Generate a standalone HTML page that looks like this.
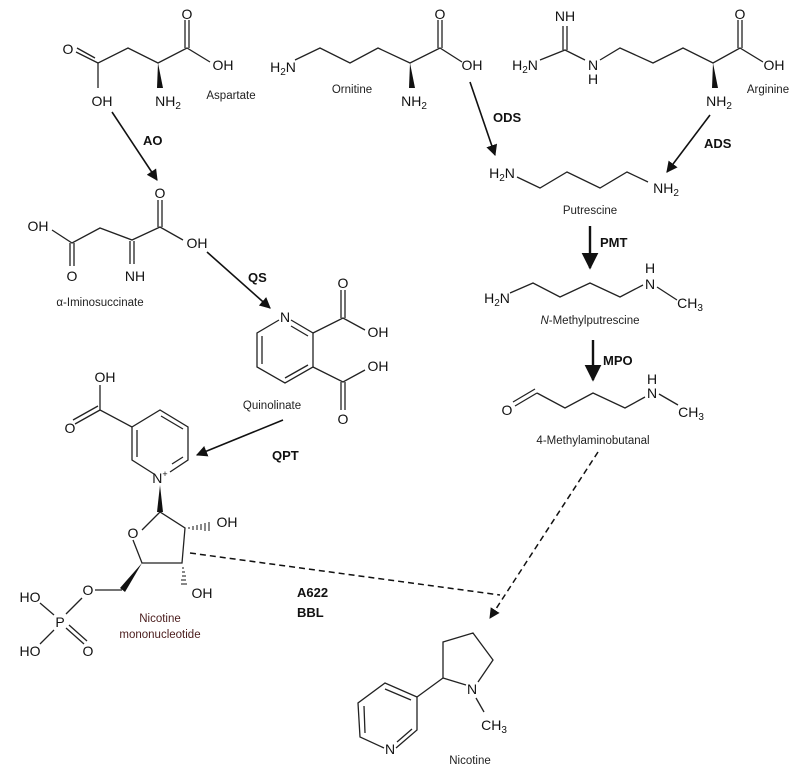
<!DOCTYPE html>
<html><head><style>body{margin:0;background:#fff}svg{display:block}</style></head><body>
<svg width="810" height="768" viewBox="0 0 810 768" xmlns="http://www.w3.org/2000/svg" font-family="Liberation Sans, sans-serif">
<defs>
<marker id="ah" viewBox="0 0 10 10" refX="9" refY="5" markerWidth="7" markerHeight="7" orient="auto"><path d="M0,0L10,5L0,10z" fill="#111"/></marker>
</defs>
<g stroke="#222" stroke-width="1.3" fill="none">
<polyline points="98,88 98,63 128,48 158,63 187,48 210,62"/>
<line x1="98" y1="63" x2="76" y2="52"/><line x1="95" y1="58" x2="77" y2="48"/>
<line x1="185" y1="48" x2="185" y2="20"/><line x1="189" y1="48" x2="189" y2="20"/>
<polyline points="52,230 72,243 100,228 132,240 160,227 183,240"/>
<line x1="70" y1="243" x2="70" y2="266"/><line x1="74" y1="243" x2="74" y2="266"/>
<line x1="130" y1="241" x2="130" y2="264"/><line x1="134" y1="241" x2="134" y2="264"/>
<line x1="158" y1="227" x2="158" y2="200"/><line x1="162" y1="227" x2="162" y2="200"/>
<polyline points="291,320 313,333 313,367 285,383 257,367 257,333 279,320"/>
<line x1="291" y1="326" x2="308" y2="336"/>
<line x1="308" y1="365" x2="285" y2="378"/>
<line x1="262" y1="364" x2="262" y2="336"/>
<polyline points="313,333 343,318 365,330"/>
<line x1="341" y1="318" x2="341" y2="290"/><line x1="345" y1="318" x2="345" y2="290"/>
<polyline points="313,367 343,382 365,370"/>
<line x1="341" y1="382" x2="341" y2="410"/><line x1="345" y1="382" x2="345" y2="410"/>
<polyline points="154,474 132,460 132,427 160,410 188,427 188,460 170,472"/>
<line x1="137" y1="457" x2="137" y2="430"/>
<line x1="161" y1="416" x2="183" y2="429"/>
<line x1="183" y1="457" x2="172" y2="464"/>
<polyline points="100,385 100,410 132,427"/>
<line x1="100" y1="410" x2="75" y2="424"/><line x1="98" y1="406" x2="73" y2="420"/>
<polyline points="142,530 160,512 185,528 182,563 142,563 133,540"/>
<line x1="122" y1="590" x2="95" y2="590"/>
<line x1="82" y1="598" x2="66" y2="614"/>
<line x1="40" y1="603" x2="54" y2="615"/>
<line x1="40" y1="644" x2="54" y2="630"/>
<line x1="66" y1="628" x2="84" y2="644"/><line x1="69" y1="625" x2="87" y2="641"/>
<polyline points="295,60 320,48 350,63 378,48 410,63 440,48 462,62"/>
<line x1="438" y1="48" x2="438" y2="20"/><line x1="442" y1="48" x2="442" y2="20"/>
<polyline points="540,60 565,50 585,60"/>
<line x1="563" y1="50" x2="563" y2="26"/><line x1="567" y1="50" x2="567" y2="26"/>
<polyline points="600,60 620,48 653,63 683,48 713,63 740,48 763,62"/>
<line x1="738" y1="48" x2="738" y2="20"/><line x1="742" y1="48" x2="742" y2="20"/>
<polyline points="517,177 540,188 567,172 600,188 627,172 648,182"/>
<polyline points="510,293 533,283 560,297 590,283 620,297 643,285"/>
<line x1="657" y1="287" x2="677" y2="300"/>
<line x1="515" y1="406" x2="537" y2="393"/><line x1="513" y1="402" x2="535" y2="389"/>
<polyline points="537,393 565,408 593,393 625,408 645,397"/>
<line x1="659" y1="394" x2="678" y2="405"/>
<polyline points="443,678 443,642 473,633 493,660 478,682"/>
<line x1="443" y1="678" x2="466" y2="685"/>
<line x1="476" y1="698" x2="484" y2="712"/>
<line x1="443" y1="678" x2="417" y2="697"/>
<polyline points="417,697 385,683 358,703 360,737 384,748"/>
<polyline points="396,748 417,730 417,697"/>
<line x1="385" y1="689" x2="411" y2="700"/>
<line x1="364" y1="706" x2="365" y2="733"/>
<line x1="397" y1="742" x2="412" y2="729"/>
</g>
<g fill="#111">
<polygon points="158,63 157,88 163,88"/>
<polygon points="410,63 409,88 415,88"/>
<polygon points="713,63 712,88 718,88"/>
<polygon points="160,485 157,512 163,512"/>
<polygon points="142,563 120,588 125,592"/>
</g>
<g stroke="#111" stroke-width="1">
<path d="M189,527v2M193,526v4M197,525v5M201,524v6M205,523v8M209,522v9"/>
<path d="M182,568h2M182,572h3M182,576h4M181,580h5M181,584h6"/>
</g>
<g stroke="#111" stroke-width="1.6" fill="none" marker-end="url(#ah)">
<line x1="112" y1="112" x2="157" y2="180"/>
<line x1="207" y1="252" x2="270" y2="308"/>
<line x1="283" y1="420" x2="197" y2="455"/>
<line x1="470" y1="82" x2="495" y2="155"/>
<line x1="710" y1="115" x2="667" y2="172"/>
<line x1="590" y1="226" x2="590" y2="268" stroke-width="2.4"/>
<line x1="593" y1="340" x2="593" y2="380" stroke-width="2.4"/>
</g>
<g stroke="#111" stroke-width="1.5" fill="none" stroke-dasharray="6,4">
<line x1="190" y1="553" x2="500" y2="595"/>
<line x1="598" y1="452" x2="490" y2="618" marker-end="url(#ah)"/>
</g>
<g font-size="14" fill="#111" text-anchor="middle">
<text x="68" y="54">O</text><text x="102" y="106">OH</text><text x="168" y="106">NH<tspan font-size="10" dy="3">2</tspan></text>
<text x="187" y="19">O</text><text x="223" y="70">OH</text>
<text x="38" y="231">OH</text><text x="72" y="281">O</text><text x="135" y="281">NH</text><text x="160" y="198">O</text><text x="197" y="248">OH</text>
<text x="285" y="322">N</text><text x="343" y="288">O</text><text x="378" y="337">OH</text><text x="378" y="371">OH</text><text x="343" y="424">O</text>
<text x="105" y="382">OH</text><text x="70" y="433">O</text><text x="160" y="483">N<tspan font-size="9" dy="-6">+</tspan></text>
<text x="133" y="538">O</text><text x="227" y="527">OH</text><text x="202" y="598">OH</text>
<text x="88" y="595">O</text><text x="60" y="627">P</text><text x="30" y="602">HO</text><text x="30" y="656">HO</text><text x="88" y="656">O</text>
<text x="283" y="72">H<tspan font-size="10" dy="3">2</tspan><tspan dy="-3">N</tspan></text>
<text x="440" y="19">O</text><text x="472" y="70">OH</text><text x="414" y="106">NH<tspan font-size="10" dy="3">2</tspan></text>
<text x="565" y="21">NH</text><text x="525" y="70">H<tspan font-size="10" dy="3">2</tspan><tspan dy="-3">N</tspan></text>
<text x="593" y="70">N</text><text x="593" y="84">H</text>
<text x="740" y="19">O</text><text x="774" y="70">OH</text><text x="719" y="106">NH<tspan font-size="10" dy="3">2</tspan></text>
<text x="502" y="178">H<tspan font-size="10" dy="3">2</tspan><tspan dy="-3">N</tspan></text>
<text x="666" y="193">NH<tspan font-size="10" dy="3">2</tspan></text>
<text x="497" y="303">H<tspan font-size="10" dy="3">2</tspan><tspan dy="-3">N</tspan></text>
<text x="650" y="273">H</text><text x="650" y="289">N</text><text x="690" y="308">CH<tspan font-size="10" dy="3">3</tspan></text>
<text x="507" y="415">O</text><text x="652" y="384">H</text><text x="652" y="398">N</text><text x="691" y="417">CH<tspan font-size="10" dy="3">3</tspan></text>
<text x="472" y="694">N</text><text x="494" y="730">CH<tspan font-size="10" dy="3">3</tspan></text><text x="390" y="754">N</text>
</g>
<g font-size="11.5" fill="#222" text-anchor="middle">
<text x="231" y="99">Aspartate</text>
<text x="352" y="93">Ornitine</text>
<text x="768" y="93">Arginine</text>
<text x="100" y="306">α-Iminosuccinate</text>
<text x="272" y="409">Quinolinate</text>
<text x="590" y="214">Putrescine</text>
<text x="590" y="324"><tspan font-style="italic">N</tspan>-Methylputrescine</text>
<text x="593" y="444">4-Methylaminobutanal</text>
<text x="160" y="622" fill="#4a1c1c">Nicotine</text>
<text x="160" y="638" fill="#4a1c1c">mononucleotide</text>
<text x="470" y="764">Nicotine</text>
</g>
<g font-size="13" font-weight="bold" fill="#111">
<text x="143" y="145">AO</text>
<text x="248" y="282">QS</text>
<text x="272" y="460">QPT</text>
<text x="493" y="122">ODS</text>
<text x="704" y="148">ADS</text>
<text x="600" y="247">PMT</text>
<text x="603" y="365">MPO</text>
<text x="297" y="597">A622</text>
<text x="297" y="617">BBL</text>
</g>
</svg>
</body></html>
